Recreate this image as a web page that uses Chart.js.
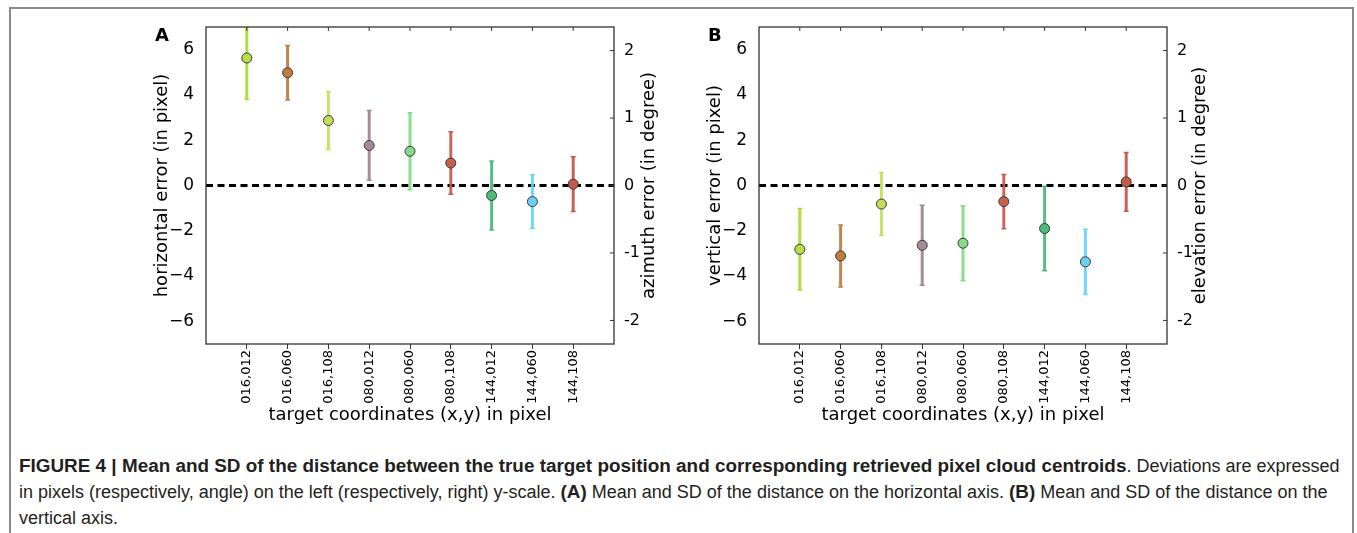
<!DOCTYPE html>
<html>
<head>
<meta charset="utf-8">
<script src="https://cdn.jsdelivr.net/npm/chart.js@4.4.1/dist/chart.umd.min.js"></script>
<style>
  body { margin: 0; background: #fff; overflow: hidden; width: 1357px; height: 533px; position: relative; }
  #frame { position: absolute; left: 9px; top: 7px; width: 1341px; height: 600px; border: 2px solid #8a8a8a; }
  canvas { position: absolute; top: 0; }
  #panelA { left: 130px; }
  #panelB { left: 683px; }
  #caption { position: absolute; left: 19px; top: 453px; font-family: "Liberation Sans", Arial, sans-serif;
             font-size: 18px; line-height: 26px; color: #231f20; white-space: nowrap; }
  #caption b { font-size: 18.9px; }
</style>
</head>
<body>
<div id="frame"></div>
<canvas id="panelA" width="550" height="440"></canvas>
<canvas id="panelB" width="550" height="440"></canvas>
<div id="caption"><b>FIGURE 4 | Mean and SD of the distance between the true target position and corresponding retrieved pixel cloud centroids</b>. Deviations are expressed<br>in pixels (respectively, angle) on the left (respectively, right) y-scale. <b>(A)</b> Mean and SD of the distance on the horizontal axis. <b>(B)</b> Mean and SD of the distance on the<br>vertical axis.</div>
<script>
// target coordinates (x,y)
const coordLabels = ['016,012', '016,060', '016,108', '080,012', '080,060', '080,108', '144,012', '144,060', '144,108'];

// A: horizontal error, mean and SD in pixel
const horizMean = [5.63, 4.98, 2.87, 1.77, 1.51, 0.99, -0.44, -0.71, 0.06];
const horizSD = [1.83, 1.20, 1.28, 1.54, 1.70, 1.38, 1.52, 1.19, 1.21];

// B: vertical error, mean and SD in pixel
const vertMean = [-2.82, -3.11, -0.82, -2.64, -2.55, -0.71, -1.90, -3.37, 0.16];
const vertSD = [1.80, 1.37, 1.39, 1.77, 1.66, 1.20, 1.87, 1.44, 1.30];

const pixelTicks = [-6, -4, -2, 0, 2, 4, 6];
const degreeTicks = [-2, -1, 0, 1, 2];
const pixelsPerDegree = 2.98;

const pointColors = ['#b4df45', '#c27c40', '#c3dc5c', '#a68a9a', '#84d98a', '#c8604f', '#4cbb7a', '#70cff5', '#c25b4b'];
const barColors = ['rgba(165,220,35,0.9)', 'rgba(190,118,58,0.9)', 'rgba(192,224,84,0.9)', 'rgba(158,126,144,0.9)',
                   'rgba(125,218,130,0.9)', 'rgba(194,88,74,0.9)', 'rgba(68,182,116,0.9)', 'rgba(100,208,252,0.9)', 'rgba(190,82,68,0.9)'];

const FONT = 'DejaVu Sans';

function makePanel(id, letter, means, sds, leftTitle, rightTitle, rightTitleGap) {
    const points = means.map((m, i) => ({ x: i + 1, y: m }));

    const panelPlugin = {
        id: 'panelExtras',
        beforeDatasetDraw(chart, args) {
            if (args.index !== 0) return;
            const { ctx, chartArea, scales } = chart;
            ctx.save();
            ctx.beginPath();
            ctx.rect(chartArea.left, chartArea.top, chartArea.right - chartArea.left, chartArea.bottom - chartArea.top);
            ctx.clip();
            means.forEach((m, i) => {
                const x = scales.x.getPixelForValue(i + 1);
                const yTop = scales.y.getPixelForValue(m + sds[i]);
                const yBot = scales.y.getPixelForValue(m - sds[i]);
                ctx.strokeStyle = barColors[i];
                ctx.lineWidth = 3;
                ctx.beginPath();
                ctx.moveTo(x, yTop);
                ctx.lineTo(x, yBot);
                ctx.stroke();
                // small caps
                ctx.lineWidth = 1.5;
                ctx.beginPath();
                ctx.moveTo(x - 2.5, yTop); ctx.lineTo(x + 2.5, yTop);
                ctx.moveTo(x - 2.5, yBot); ctx.lineTo(x + 2.5, yBot);
                ctx.stroke();
            });
            ctx.restore();
        },
        afterDatasetsDraw(chart) {
            const { ctx, chartArea, scales } = chart;
            ctx.save();
            ctx.strokeStyle = '#333';
            ctx.lineWidth = 1.3;
            ctx.strokeRect(chartArea.left, chartArea.top, chartArea.right - chartArea.left, chartArea.bottom - chartArea.top);
            // inward ticks on top and right
            ctx.lineWidth = 1;
            ctx.beginPath();
            coordLabels.forEach((_, i) => {
                const x = scales.x.getPixelForValue(i + 1);
                ctx.moveTo(x, chartArea.top);
                ctx.lineTo(x, chartArea.top + 4);
            });
            degreeTicks.forEach(v => {
                const y = scales.y2.getPixelForValue(v);
                ctx.moveTo(chartArea.right, y);
                ctx.lineTo(chartArea.right - 4, y);
            });
            ctx.stroke();
            ctx.restore();
        },
        afterDraw(chart) {
            const { ctx, chartArea } = chart;
            ctx.save();
            ctx.fillStyle = '#000';
            ctx.font = 'bold 18px ' + FONT;
            ctx.textAlign = 'left';
            ctx.textBaseline = 'alphabetic';
            ctx.fillText(letter, chartArea.left - 51, 41);
            // right axis title, reads bottom to top
            ctx.font = '18px ' + FONT;
            ctx.textAlign = 'center';
            ctx.textBaseline = 'middle';
            ctx.translate(chartArea.right + rightTitleGap, (chartArea.top + chartArea.bottom) / 2);
            ctx.rotate(-Math.PI / 2);
            ctx.fillText(rightTitle, 0, 0);
            ctx.restore();
        }
    };

    new Chart(document.getElementById(id).getContext('2d'), {
        data: {
            datasets: [{
                type: 'scatter',
                data: points,
                order: 0,
                pointRadius: 5,
                pointBackgroundColor: pointColors,
                pointBorderColor: '#3a3a3a',
                pointBorderWidth: 1
            }, {
                type: 'line',
                data: [{ x: 0, y: 0 }, { x: coordLabels.length + 1, y: 0 }],
                order: 1,
                borderColor: '#000',
                borderWidth: 3,
                borderDash: [7, 4.5],
                pointRadius: 0
            }]
        },
        options: {
            responsive: false,
            animation: false,
            layout: { padding: { left: 18, right: 0, top: 27, bottom: 12 } },
            plugins: { legend: { display: false }, tooltip: { enabled: false } },
            scales: {
                x: {
                    type: 'linear',
                    min: 0,
                    max: coordLabels.length + 1,
                    afterBuildTicks: s => { s.ticks = coordLabels.map((_, i) => ({ value: i + 1 })); },
                    afterFit: s => { s.height = 84; },
                    ticks: {
                        autoSkip: false, minRotation: 90, maxRotation: 90, padding: 1,
                        color: '#000', font: { family: FONT, size: 13 },
                        callback: v => coordLabels[v - 1] || ''
                    },
                    grid: { drawOnChartArea: false, drawTicks: true, tickLength: 5, color: '#333' },
                    border: { display: false },
                    title: { display: true, text: 'target coordinates (x,y) in pixel', color: '#000',
                             font: { family: FONT, size: 18 }, padding: { top: 0, bottom: 2 } }
                },
                y: {
                    type: 'linear',
                    position: 'left',
                    min: -7,
                    max: 7,
                    afterBuildTicks: s => { s.ticks = pixelTicks.map(v => ({ value: v })); },
                    afterFit: s => { s.width = 58; },
                    ticks: { padding: 4, color: '#000', font: { family: FONT, size: 17 },
                             callback: v => String(v).replace('-', '\u2212') },
                    grid: { display: false },
                    border: { display: false },
                    title: { display: true, text: leftTitle, color: '#000', font: { family: FONT, size: 18 } }
                },
                y2: {
                    type: 'linear',
                    position: 'right',
                    min: -7 / pixelsPerDegree,
                    max: 7 / pixelsPerDegree,
                    afterBuildTicks: s => { s.ticks = degreeTicks.map(v => ({ value: v })); },
                    afterFit: s => { s.width = 66; },
                    ticks: { padding: 2, color: '#000', font: { family: FONT, size: 16 },
                             callback: v => String(v) },
                    grid: { display: false },
                    border: { display: false }
                }
            }
        },
        plugins: [panelPlugin]
    });
}

makePanel('panelA', 'A', horizMean, horizSD, 'horizontal error (in pixel)', 'azimuth error (in degree)', 35);
makePanel('panelB', 'B', vertMean, vertSD, 'vertical error (in pixel)', 'elevation error (in degree)', 33);
</script>
</body>
</html>
